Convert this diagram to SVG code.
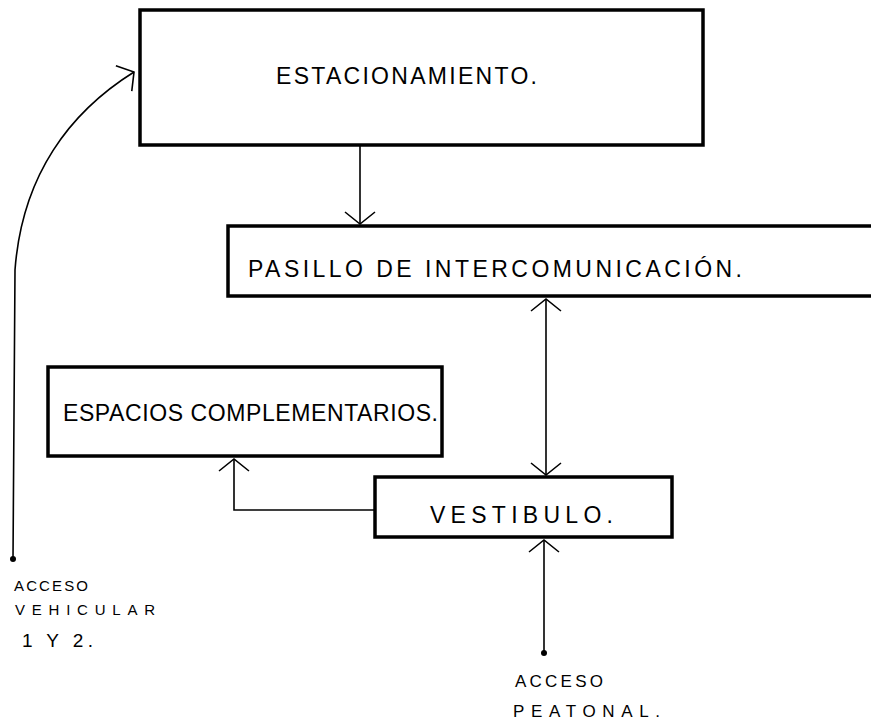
<svg xmlns="http://www.w3.org/2000/svg" width="871" height="724" viewBox="0 0 871 724">
<style>
.box{fill:#fff;stroke:#000;stroke-width:3.5;stroke-linejoin:miter}
.lbl{font-family:"Liberation Sans",Arial,sans-serif;fill:#000;font-size:23px}
.sm{font-family:"Liberation Sans",Arial,sans-serif;fill:#000}
.con{fill:none;stroke:#000;stroke-width:1.6}
</style>
<defs>
<marker id="ah" markerUnits="userSpaceOnUse" viewBox="-14 -17 16 34" refX="0" refY="0" markerWidth="16" markerHeight="34" orient="auto-start-reverse">
<path d="M-12,-15 L0,0 L-12,15" fill="none" stroke="#000" stroke-width="1.6"/>
</marker>
</defs>
<rect width="871" height="724" fill="#fff"/>
<g id="connectors">
<line class="con" x1="360" y1="146" x2="360" y2="224" marker-end="url(#ah)"/>
<line class="con" x1="546" y1="299" x2="546" y2="475" marker-start="url(#ah)" marker-end="url(#ah)"/>
<polyline class="con" points="375,510 234,510 234,459" marker-end="url(#ah)"/>
<line class="con" x1="544" y1="653" x2="544" y2="540" marker-end="url(#ah)"/>
<path class="con" d="M13,559 L15,270 C22,175 70,112 134,72" marker-end="url(#ah)"/>
<circle cx="544" cy="653" r="3"/>
<circle cx="13" cy="559" r="3"/>
</g>
<g id="estacionamiento">
<rect class="box" x="140" y="10" width="563" height="135"/>
<text class="lbl" font-size="21" x="276" y="84" textLength="261" lengthAdjust="spacing">ESTACIONAMIENTO.</text>
</g>
<g id="pasillo">
<rect class="box" x="228" y="226" width="660" height="70"/>
<text class="lbl" x="248" y="277" textLength="494" lengthAdjust="spacing">PASILLO DE INTERCOMUNICACIÓN.</text>
</g>
<g id="espacios">
<rect class="box" x="48" y="367" width="394" height="89"/>
<text class="lbl" font-size="21" x="63" y="421" textLength="375" lengthAdjust="spacing">ESPACIOS COMPLEMENTARIOS.</text>
</g>
<g id="vestibulo">
<rect class="box" x="375" y="477" width="297" height="60"/>
<text class="lbl" x="430" y="523" textLength="183" lengthAdjust="spacing">VESTIBULO.</text>
</g>
<g id="acceso-peatonal">
<text class="sm" font-size="17" x="515" y="687" textLength="88" lengthAdjust="spacing">ACCESO</text>
<text class="sm" font-size="17" x="513" y="717" textLength="147" lengthAdjust="spacing">PEATONAL.</text>
</g>
<g id="acceso-vehicular">
<text class="sm" font-size="15" x="14" y="591" textLength="74" lengthAdjust="spacing">ACCESO</text>
<text class="sm" font-size="15" x="15" y="615" textLength="140" lengthAdjust="spacing">VEHICULAR</text>
<text class="sm" font-size="19" x="22" y="647" textLength="71" lengthAdjust="spacing">1 Y 2.</text>
</g>
</svg>
